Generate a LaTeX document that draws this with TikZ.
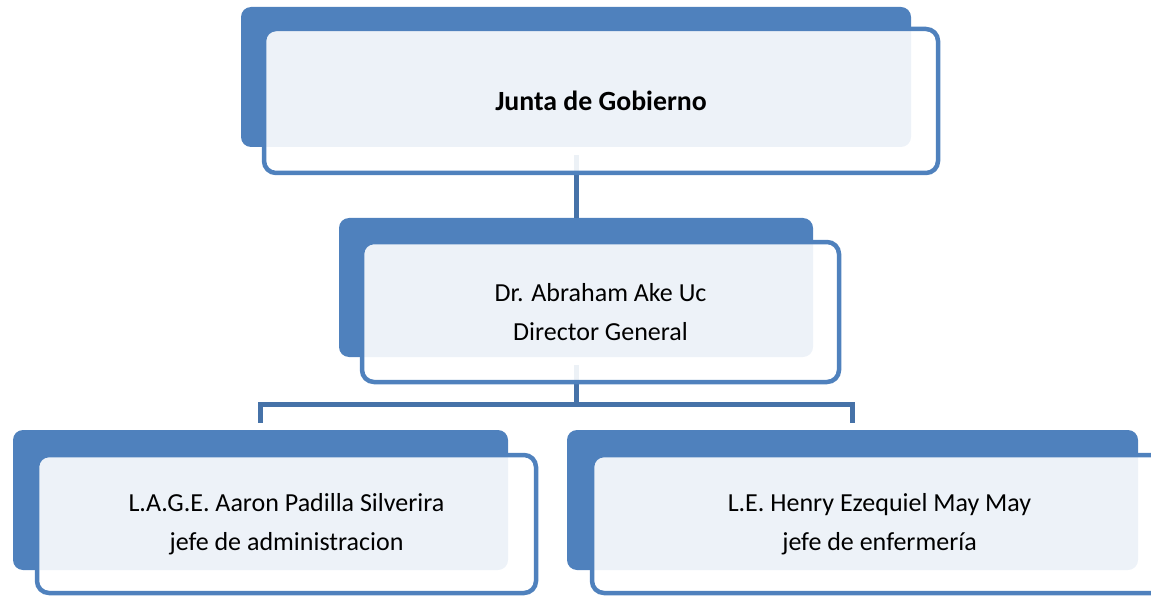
\documentclass[tikz,border=0pt]{standalone}
\usepackage{fontspec}
\setmainfont{Carlito}
\usepackage{tikz}
\definecolor{boxblue}{RGB}{79,129,189}
\definecolor{lineblue}{RGB}{70,114,168}

\begin{document}
\begin{tikzpicture}[x=1pt, y=-1pt,
  back/.style={rectangle, rounded corners=10pt, fill=boxblue, inner sep=0pt},
  front/.style={rectangle, rounded corners=12pt, draw=boxblue, line width=4.5pt,
    fill=white, fill opacity=0.9, text opacity=1, align=center,
    font=\fontsize{26}{39}\selectfont, inner sep=0pt},
  conn/.style={draw=lineblue, line width=5pt}]


\useasboundingbox (0,0) rectangle (1151,596);



\node (jg back) at (576, 77) [back, minimum width=670pt, minimum height=140pt] {};

\node (dir back) at (576, 287.5) [back, minimum width=474pt, minimum height=139pt] {};

\node (adm back) at (260.5, 500) [back, minimum width=495pt, minimum height=140pt] {};

\node (enf back) at (852.5, 500) [back, minimum width=571pt, minimum height=140pt] {};



\coordinate (split) at (576, 404);

\draw [conn, shorten <=8pt] (jg back.south) -- (dir back.north);

\draw [conn, shorten <=8pt, shorten >=7pt] (dir back.south) -- (split) -| (adm back.north);

\draw [conn, shorten >=7pt] (split) -| (enf back.north);



\node (jg) at (601, 101) [front, minimum width=674pt, minimum height=144pt] {\fontsize{27.8}{39}\selectfont\textbf{Junta de Gobierno}};

\node (dir) at (600.5, 312) [front, minimum width=477pt, minimum height=140pt] {Dr. Abraham Ake Uc\\Director General};

\node (adm) at (286.5, 524) [front, minimum width=499pt, minimum height=138pt] {L.A.G.E. Aaron Padilla Silverira\\jefe de administracion};

\node (enf) at (879.5, 524) [front, minimum width=575pt, minimum height=138pt] {L.E. Henry Ezequiel May May\\jefe de enfermería};


\end{tikzpicture}
\end{document}
